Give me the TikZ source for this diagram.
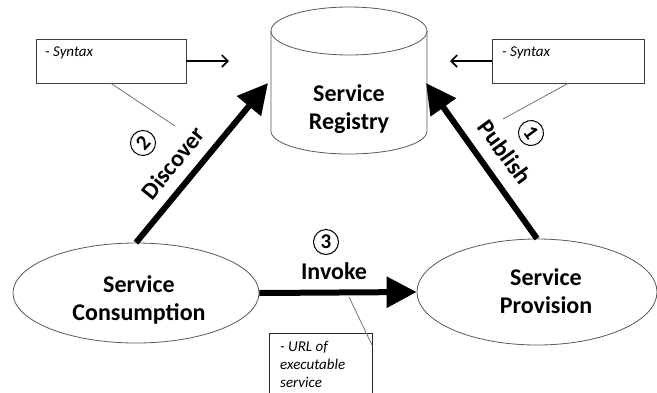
\documentclass[tikz,border=0pt]{standalone}
\usepackage{fontspec}
\setmainfont{Carlito}
\usetikzlibrary{arrows.meta,shapes.geometric}
\begin{document}
\begin{tikzpicture}[x=1pt,y=-1pt,
  outl/.style={draw=black!65, line width=0.8pt},
  bigtxt/.style={font=\fontsize{24}{28}\selectfont\bfseries, align=center, inner sep=0pt},
  numcirc/.style={circle, draw=black, line width=1pt, minimum size=25pt, inner sep=0pt, font=\fontsize{21}{24}\selectfont\bfseries},
  smalltxt/.style={font=\fontsize{15}{18}\selectfont\itshape, align=left, inner sep=0pt},
  cbox/.style={rectangle, draw=black!75, line width=0.8pt, inner sep=0pt},
  bigarrow/.style={line width=6pt, -{Triangle[length=30pt,width=30pt]}},
  smallarrow/.style={line width=1.6pt, -{Straight Barb[length=6pt,width=12pt,line width=1.6pt]}},
  callout/.style={draw=black!55, line width=0.8pt}
]
\useasboundingbox (0,0) rectangle (657,392);
\fill[white] (0,0) rectangle (657,392);

% Service registry cylinder
\draw[outl, fill=white] (271,31) -- (271,131) arc[start angle=180, end angle=360, x radius=78pt, y radius=23pt] -- (427,31);
\draw[outl] (349,31) ellipse [x radius=78pt, y radius=24pt];
\node[bigtxt] (reg) at (349,109) {Service\\Registry};
\coordinate (regL) at (268,83);
\coordinate (regR) at (426,83);

% ellipses
\node[ellipse, outl, minimum width=246pt, minimum height=100pt, inner sep=0pt] (cons) at (136,293) {};
\node[ellipse, outl, minimum width=240pt, minimum height=106pt, inner sep=0pt] (prov) at (537,292) {};
\node[bigtxt] (consT) at (139,300) {Service\\Consumption};
\node[bigtxt] (provT) at (546,291) {Service\\Provision};

% big arrows
\draw[bigarrow] (cons.north) -- (regL);
\draw[bigarrow] (prov.north) -- (regR);
\draw[bigarrow] (cons.east) -- (prov.west);

% labels
\node[bigtxt, rotate=51] (disc) at (173,163) {Discover};
\node[bigtxt, rotate=-54] (pub) at (505,152) {Publish};
\node[bigtxt, anchor=base] (inv) at (334,279) {Invoke};

% numbered circles
\node[numcirc, rotate=48] (n2) at (143,143) {2};
\node[numcirc, rotate=-54] (n1) at (531,133) {1};
\node[numcirc] (n3) at (326,242) {3};

% syntax boxes
\node[cbox, minimum width=150pt, minimum height=44pt] (boxL) at (111,61) {};
\node[smalltxt, anchor=base west] (boxLt) at (45,56) {- Syntax};
\node[cbox, minimum width=152pt, minimum height=44pt] (boxR) at (568,61) {};
\node[smalltxt, anchor=base west] (boxRt) at (502,56) {- Syntax};
\coordinate (aL) at (229,61);
\coordinate (aR) at (450,61);
\draw[smallarrow] (boxL.east) -- (aL);
\draw[smallarrow] (boxR.west) -- (aR);
\coordinate (cL) at (175,126);
\coordinate (cR) at (503,119);
\draw[callout] (boxL.south) -- (cL);
\draw[callout] (boxR.south) -- (cR);

% URL box
\draw[draw=black!85, line width=0.8pt] (269,393) |- (372,333) -- (372,393);
\coordinate (boxBcorner) at (372,345);
\node[smalltxt, anchor=base west] (urlt) at (280,387) {- URL of\\executable\\service};
\coordinate (cB) at (349,297);
\draw[callout] (boxBcorner) -- (cB);
\end{tikzpicture}
\end{document}
